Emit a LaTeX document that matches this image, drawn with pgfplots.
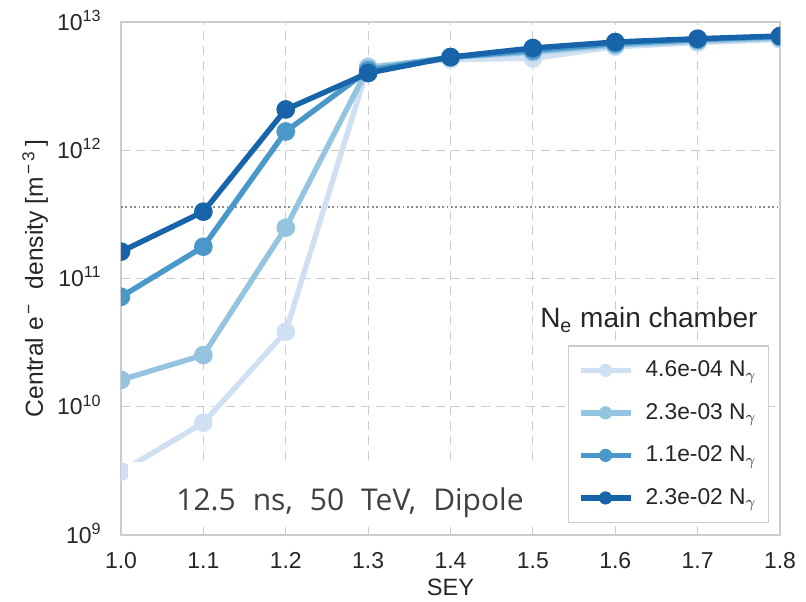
\documentclass[border=0pt]{standalone}
\usepackage{fontspec}
\setmainfont{Liberation Sans}
\newfontfamily\annfont{Open Sans}
\usepackage{pgfplots}
\pgfplotsset{compat=1.18}
\definecolor{cA}{RGB}{206,224,242}
\definecolor{cB}{RGB}{148,196,223}
\definecolor{cC}{RGB}{74,152,201}
\definecolor{cD}{RGB}{23,100,171}
\definecolor{gridc}{RGB}{204,204,204}
\definecolor{txt}{RGB}{38,38,38}
\definecolor{anntxt}{RGB}{64,64,64}
\begin{document}
\begin{tikzpicture}
\path[use as bounding box] (-60.5pt,-33pt) rectangle (342.5pt,267.5pt);
\begin{axis}[
  at={(0,0)}, anchor=south west,
  scale only axis, width=329.5pt, height=256.5pt,
  ymode=log, xmin=1, xmax=1.8, ymin=1e9, ymax=1e13,
  xtick={1.0,1.1,1.2,1.3,1.4,1.5,1.6,1.7,1.8},
  xticklabels={1.0,1.1,1.2,1.3,1.4,1.5,1.6,1.7,1.8},
  ytick={1e9,1e10,1e11,1e12,1e13},
  yticklabels={10\textsuperscript{9},10\textsuperscript{10},10\textsuperscript{11},10\textsuperscript{12},10\textsuperscript{13}},
  yminorticks=false,
  grid=major,
  major grid style={gridc, line width=0.6pt, dash pattern=on 4.5pt off 3pt},
  axis line style={gridc, line width=0.6pt},
  major tick length=0pt,
  tick label style={font=\fontsize{11.5}{13}\selectfont, text=txt},
  xticklabel style={anchor=base, inner sep=0pt, yshift=-17pt},
  yticklabel style={anchor=base east, inner sep=0pt, xshift=-9.5pt, yshift=-4.1pt},
  xlabel={SEY},
  ylabel={Central e\textsuperscript{\,−}\hspace{7pt}density [m\textsuperscript{\,−\,3}\,]},
  label style={font=\fontsize{11.8}{13}\selectfont, text=txt},
  xlabel style={at={(axis description cs:0.5,-0.117)}, anchor=base, inner sep=0pt},
  ylabel style={at={(axis description cs:-0.1184,0.5)}, anchor=base, inner sep=0pt, font=\fontsize{12.3}{14}\selectfont},
  clip marker paths=true,
  legend cell align=left,
  legend image code/.code={%
    \draw[#1, mark=none] (2pt,0pt) -- (27pt,0pt);
    \fill[#1, draw=none] (14.5pt,0pt) circle (3.3pt);
    \path[draw=none, fill=none] (0pt,-3.3pt) rectangle (32.5pt,3.3pt);},
  legend style={at={(rel axis cs:0.9833,0.0234)}, anchor=south east, draw=gridc, line width=0.6pt, fill=white,
    font=\fontsize{11.4}{13}\selectfont, text=txt, row sep=7.8pt, inner xsep=4pt, inner ysep=5.5pt},
  every axis plot/.append style={line width=2.7pt, mark=*, mark size=3.3pt},
]
\addplot[gray!90, line width=0.9pt, dash pattern=on 0.85pt off 1.35pt, mark=none, forget plot] coordinates {(1.0,3.63e11) (1.8,3.63e11)};
\addplot[cA, mark options={draw=none, fill=cA}] coordinates {(1.0,3.12e9) (1.1,7.5e9) (1.2,3.85e10) (1.3,4.5e12) (1.4,5.1e12) (1.5,5.2e12) (1.6,6.4e12) (1.7,6.9e12) (1.8,7.3e12)};
\addlegendentry{4.6e-04 N$_\gamma$}
\addplot[cB, mark options={draw=none, fill=cB}] coordinates {(1.0,1.62e10) (1.1,2.53e10) (1.2,2.49e11) (1.3,4.4e12) (1.4,5.3e12) (1.5,5.8e12) (1.6,6.6e12) (1.7,7.1e12) (1.8,7.5e12)};
\addlegendentry{2.3e-03 N$_\gamma$}
\addplot[cC, mark options={draw=none, fill=cC}] coordinates {(1.0,7.2e10) (1.1,1.77e11) (1.2,1.40e12) (1.3,4.2e12) (1.4,5.3e12) (1.5,6.0e12) (1.6,6.8e12) (1.7,7.3e12) (1.8,7.7e12)};
\addlegendentry{1.1e-02 N$_\gamma$}
\addplot[cD, mark options={draw=none, fill=cD}] coordinates {(1.0,1.62e11) (1.1,3.32e11) (1.2,2.08e12) (1.3,4.0e12) (1.4,5.33e12) (1.5,6.27e12) (1.6,6.98e12) (1.7,7.41e12) (1.8,7.78e12)};
\addlegendentry{2.3e-02 N$_\gamma$}
\fill[white] (rel axis cs:0.0106,0.0156) rectangle (rel axis cs:0.6358,0.1423);
\node[anchor=base west, inner sep=0pt, font=\annfont\fontsize{15}{18}\selectfont, text=anntxt] at (rel axis cs:0.0834,0.0487) {12.5\hspace{8.5pt}ns,\hspace{8.5pt}50\hspace{8.5pt}TeV,\hspace{8.5pt}Dipole};
\node[anchor=base east, inner sep=0pt, font=\fontsize{14}{16}\selectfont, text=txt] at (rel axis cs:0.9666,0.4035) {N\textsubscript{e} main chamber};
\end{axis}
\end{tikzpicture}
\end{document}
